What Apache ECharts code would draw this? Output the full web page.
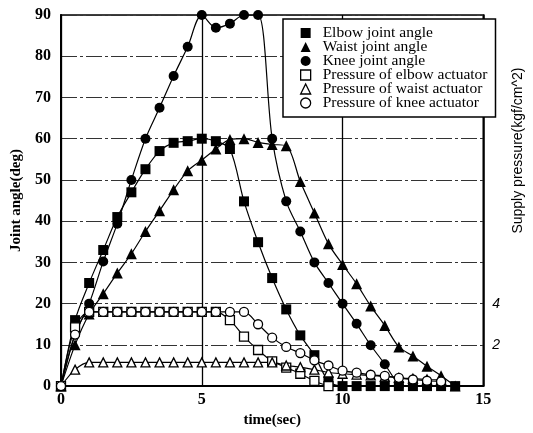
<!DOCTYPE html>
<html>
<head>
<meta charset="utf-8">
<script src="https://cdn.jsdelivr.net/npm/echarts@6/dist/echarts.min.js"></script>
<style>
  html, body { margin: 0; padding: 0; background: #fff; }
  #chart { width: 533px; height: 433px; }
</style>
</head>
<body>
<div id="chart"></div>
<script>
// Sampling instants (s)
const times = [0, 0.5, 1, 1.5, 2, 2.5, 3, 3.5, 4, 4.5, 5, 5.5, 6, 6.5, 7,
               7.5, 8, 8.5, 9, 9.5, 10, 10.5, 11, 11.5, 12, 12.5, 13, 13.5, 14];

// Joint angles (deg)
const elbowAngle = [0, 16, 25, 33, 41, 47, 52.6, 57, 59, 59.4, 60, 59.4, 57.5, 44.8, 34.9,
                    26.2, 18.6, 12.3, 7.5, 1.2, 0, 0, 0, 0, 0, 0, 0, 0, 0];
const waistAngle = [0, 10, 17.5, 22.4, 27.4, 32.1, 37.5, 42.5, 47.6, 52.2, 54.8, 57.5, 59.8, 60, 59.1,
                    58.6, 58.3, 49.6, 42, 34.5, 29.5, 24.8, 19.4, 14.7, 9.5, 7.3, 4.8, 2.5, 0];
const kneeAngle  = [0, 12.5, 20, 30.2, 39.4, 50, 60, 67.5, 75.2, 82.3, 90, 86.9, 87.9, 90, 90,
                    60, 44.8, 37.5, 30, 25, 20, 15.1, 9.9, 5.3, 0];

// Actuator supply pressures (kgf/cm^2)
const elbowPressure = [0, 2.85, 3.6, 3.6, 3.6, 3.6, 3.6, 3.6, 3.6, 3.6, 3.6, 3.6, 3.2, 2.4, 1.75,
                       1.2, 0.9, 0.6, 0.25, 0];
const waistPressure = [0, 0.8, 1.15, 1.15, 1.15, 1.15, 1.15, 1.15, 1.15, 1.15, 1.15, 1.15, 1.15, 1.15, 1.15,
                       1.15, 1.0, 0.92, 0.8, 0.66, 0.6, 0.56, 0.52, 0.46, 0.4, 0.36, 0.32, 0.3];
const kneePressure  = [0, 2.5, 3.6, 3.6, 3.6, 3.6, 3.6, 3.6, 3.6, 3.6, 3.6, 3.6, 3.6, 3.6, 3.0,
                       2.35, 1.9, 1.6, 1.25, 1.0, 0.75, 0.65, 0.55, 0.5, 0.4, 0.32, 0.26, 0.22];

const xTicks = [0, 5, 10, 15];
const pressureTicks = [2, 4];

const seriesNames = [
  'Elbow joint angle', 'Waist joint angle', 'Knee joint angle',
  'Pressure of elbow actuator', 'Pressure of waist actuator', 'Pressure of knee actuator'
];

const pairs = vals => vals.map((v, i) => [times[i], v]);

const serif = '"Liberation Serif", "Times New Roman", serif';
const sans = '"Liberation Sans", Arial, sans-serif';

const filled = { color: '#000' };
const hollow = { color: '#fff', borderColor: '#000', borderWidth: 1.3 };

function curve(name, vals, symbol, size, itemStyle, axis) {
  return {
    name: name,
    type: 'line',
    yAxisIndex: axis,
    data: pairs(vals),
    smooth: 0.3,
    symbol: symbol,
    symbolSize: size,
    showAllSymbol: true,
    lineStyle: { color: '#000', width: 1.2 },
    itemStyle: itemStyle,
    emphasis: { disabled: true },
    animation: false
  };
}

const chart = echarts.init(document.getElementById('chart'), null, { renderer: 'canvas' });

chart.setOption({
  backgroundColor: '#fff',
  animation: false,
  grid: {
    left: 61, right: 38, top: 15, bottom: 40,
    show: true, borderColor: '#000', borderWidth: 1.5, backgroundColor: 'transparent'
  },
  legend: {
    orient: 'vertical',
    left: 283, top: 19,
    padding: [6, 8, 6, 17],
    itemGap: -2,
    itemWidth: 10, itemHeight: 10,
    borderColor: '#000', borderWidth: 1.5,
    backgroundColor: '#fff',
    selectedMode: false,
    textStyle: { fontFamily: serif, fontSize: 15.5, color: '#000', padding: [0, 0, 0, 7] },
    data: [
      { name: seriesNames[0], icon: 'rect', itemStyle: filled },
      { name: seriesNames[1], icon: 'triangle', itemStyle: filled },
      { name: seriesNames[2], icon: 'circle', itemStyle: filled },
      { name: seriesNames[3], icon: 'rect', itemStyle: hollow },
      { name: seriesNames[4], icon: 'triangle', itemStyle: hollow },
      { name: seriesNames[5], icon: 'circle', itemStyle: hollow }
    ]
  },
  xAxis: {
    type: 'value',
    min: xTicks[0], max: xTicks[xTicks.length - 1], interval: 5,
    name: 'time(sec)',
    nameLocation: 'middle',
    nameGap: 16,
    nameTextStyle: { fontFamily: serif, fontSize: 15, fontWeight: 'bold', color: '#000' },
    axisLine: { show: true, lineStyle: { color: '#000', width: 2 } },
    axisTick: { show: false },
    axisLabel: { margin: 6, fontFamily: serif, fontSize: 16, fontWeight: 'bold', color: '#000' },
    splitLine: { show: true, lineStyle: { color: '#000', width: 1.3, type: 'solid' } }
  },
  yAxis: [
    {
      type: 'value',
      min: 0, max: 90, interval: 10,
      name: 'Joint angle(deg)',
      nameLocation: 'middle',
      nameGap: 33,
      nameTextStyle: { fontFamily: serif, fontSize: 15, fontWeight: 'bold', color: '#000' },
      axisLine: { show: true, lineStyle: { color: '#000', width: 2 } },
      axisTick: { show: false },
      axisLabel: { margin: 10, fontFamily: serif, fontSize: 16, fontWeight: 'bold', color: '#000' },
      splitLine: { show: true, lineStyle: { color: '#333', width: 1, type: [16, 3, 3, 3] } }
    },
    {
      type: 'value',
      position: 'right',
      min: 0, max: 18, interval: 2,
      name: 'Supply pressure(kgf/cm^2)',
      nameLocation: 'middle',
      nameGap: 16,
      nameTextStyle: { fontFamily: sans, fontSize: 14, color: '#000', padding: [0, 0, 0, 100] },
      axisLine: { show: true, lineStyle: { color: '#000', width: 1.5 } },
      axisTick: { show: false },
      axisLabel: {
        margin: 9, fontFamily: sans, fontSize: 14, fontStyle: 'italic', color: '#000',
        formatter: v => (pressureTicks.indexOf(v) >= 0 ? String(v) : '')
      },
      splitLine: { show: false }
    }
  ],
  series: [
    curve(seriesNames[0], elbowAngle, 'rect', 10, filled, 0),
    curve(seriesNames[1], waistAngle, 'triangle', 11, filled, 0),
    curve(seriesNames[2], kneeAngle, 'circle', 10, filled, 0),
    curve(seriesNames[3], elbowPressure, 'rect', 9, hollow, 1),
    curve(seriesNames[4], waistPressure, 'triangle', 9, hollow, 1),
    curve(seriesNames[5], kneePressure, 'circle', 9, hollow, 1)
  ]
});
</script>
</body>
</html>
